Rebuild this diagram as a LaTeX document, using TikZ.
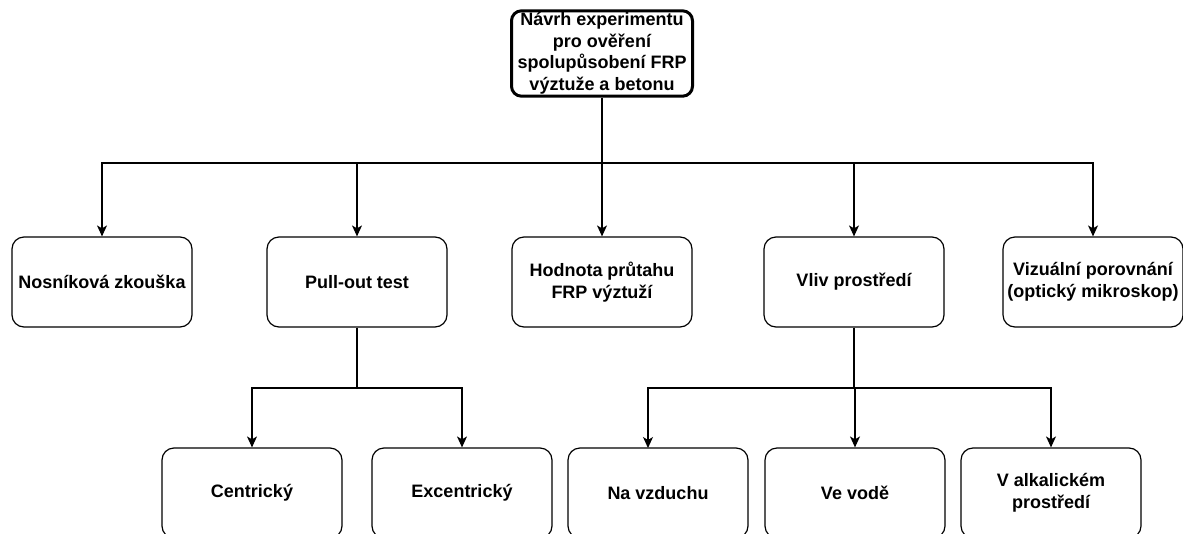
\documentclass[tikz,border=0pt]{standalone}
\usepackage{fontspec}
\setmainfont{Liberation Sans}
\usetikzlibrary{arrows.meta}
\tikzset{%
  linkarrow/.style = {-{Stealth[length=11pt,width=10pt,inset=3pt]},line width=1.2pt},
  link/.style = {line width=1.2pt},
  box/.style = {rectangle,rounded corners=12pt,draw,line width=1.2pt,
        minimum width=180pt,minimum height=90pt,inner sep=2pt,
        align=center,font=\fontsize{18}{21.5}\selectfont\bfseries},
  rootbox/.style = {box,line width=3pt,minimum width=181pt,
        minimum height=84pt,rounded corners=10pt}
}
\begin{document}
\begin{tikzpicture}[x=1pt,y=-1pt]
    \useasboundingbox (0,0) rectangle (1183,533);
    % root
    \node[rootbox] (root) at (602,53.5) {N\'avrh experimentu\\pro ov\v{e}\v{r}en\'i\\spolup\r{u}soben\'i FRP\\v\'yztu\v{z}e a betonu};
    % first level
    \node[box] (beam) at (102,282) {Nosn\'ikov\'a zkou\v{s}ka};
    \node[box] (pull) at (357,282) {Pull-out test};
    \node[box] (slip) at (602,282) {Hodnota pr\r{u}tahu\\FRP v\'yztu\v{z}\'i};
    \node[box] (env) at (854,282) {Vliv prost\v{r}ed\'i};
    \node[box] (visual) at (1093,282) {Vizu\'aln\'i porovn\'an\'i\\(optick\'y mikroskop)};
    % second level
    \node[box] (centric) at (252,493) {Centrick\'y};
    \node[box] (eccentric) at (462,493) {Excentrick\'y};
    \node[box] (air) at (658,493) {Na vzduchu};
    \node[box] (water) at (855,493) {Ve vod\v{e}};
    \node[box] (alkali) at (1051,493) {V alkalick\'em\\prost\v{r}ed\'i};
    % branching points
    \coordinate (hubroot) at (602,163);
    \coordinate (hubpull) at (357,388);
    \coordinate (hubenv) at (854,388);
    \coordinate (airin) at (648,448);
    \draw[link] (root.south) -- (hubroot);
    \foreach \n in {beam,pull,slip,env,visual}
        \draw[linkarrow] (hubroot) -| (\n.north);
    \draw[link] (pull.south) -- (hubpull);
    \foreach \n in {centric,eccentric}
        \draw[linkarrow] (hubpull) -| (\n.north);
    \draw[link] (env.south) -- (hubenv);
    \draw[linkarrow] (hubenv) -| (airin);
    \foreach \n in {water,alkali}
        \draw[linkarrow] (hubenv) -| (\n.north);
\end{tikzpicture}
\end{document}
